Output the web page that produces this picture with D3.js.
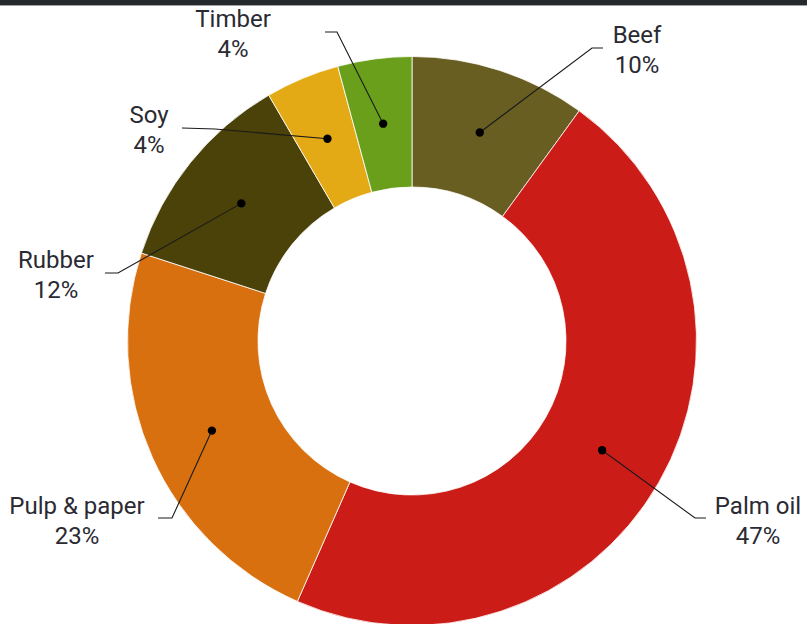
<!DOCTYPE html>
<html>
<head>
<meta charset="utf-8">
<script src="https://cdnjs.cloudflare.com/ajax/libs/d3/7.8.5/d3.min.js"></script>
<style>
  html, body { margin: 0; padding: 0; background: #ffffff; }
  svg { display: block; }
  text { font-family: Roboto, "Noto Sans", sans-serif; fill: #2a2a32; }
</style>
</head>
<body>
<script>
// ---- data ----
const categories = ["Beef", "Palm oil", "Pulp & paper", "Rubber", "Soy", "Timber"];
const shares = [10, 46.6, 23.4, 11.6, 4.2, 4.2];
const percentLabels = ["10%", "47%", "23%", "12%", "4%", "4%"];
const colors = ["#685e22", "#cc1c17", "#d9700f", "#4a4208", "#e4aa15", "#6a9f1b"];

// ---- layout of the callouts (label anchor, elbow, line end) ----
const labelPos = [
  { x: 637, y: 43, elbow: [592, 48], end: [603, 48] },
  { x: 758, y: 514, elbow: [695, 518], end: [706, 518] },
  { x: 77, y: 514, elbow: [172, 518], end: [158, 518] },
  { x: 56, y: 268, elbow: [118, 273], end: [105, 273] },
  { x: 149, y: 123, elbow: [215, 129], end: [182, 128] },
  { x: 233, y: 27, elbow: [337, 32], end: [325, 32] }
];

const W = 807, H = 624;
const cx = 412, cy = 341, rOuter = 284.5, rInner = 154;

const svg = d3.select("body").append("svg").attr("width", W).attr("height", H);

// top dark strip
svg.append("rect").attr("x", 0).attr("y", 0).attr("width", W).attr("height", 5).attr("fill", "#25292c");
svg.append("rect").attr("x", 0).attr("y", 5).attr("width", W).attr("height", 1).attr("fill", "#a0a2a4");

const data = categories.map((c, i) => ({ name: c, value: shares[i], pct: percentLabels[i], color: colors[i], lp: labelPos[i] }));

const pie = d3.pie().value(d => d.value).sort(null);
const arc = d3.arc().innerRadius(rInner).outerRadius(rOuter);
const arcs = pie(data);

const g = svg.append("g").attr("transform", `translate(${cx},${cy})`);

g.selectAll("path.slice").data(arcs).join("path")
  .attr("class", "slice")
  .attr("d", arc)
  .attr("fill", d => d.data.color)
  .attr("stroke", "#ffffff")
  .attr("stroke-width", 0.8);

// leader lines
const line = d3.line();
arcs.forEach(a => {
  const c = arc.centroid(a);
  const p0 = [cx + c[0], cy + c[1]];
  svg.append("path")
    .attr("d", line([p0, a.data.lp.elbow, a.data.lp.end]))
    .attr("fill", "none")
    .attr("stroke", "#1a1a1a")
    .attr("stroke-width", 1.1);
  svg.append("circle")
    .attr("cx", p0[0]).attr("cy", p0[1]).attr("r", 4.2)
    .attr("fill", "#000000");
});

// labels
arcs.forEach(a => {
  const t = svg.append("text")
    .attr("text-anchor", "middle")
    .attr("font-size", 24);
  t.append("tspan").attr("x", a.data.lp.x).attr("y", a.data.lp.y).text(a.data.name);
  t.append("tspan").attr("x", a.data.lp.x).attr("y", a.data.lp.y + 30).text(a.data.pct);
});
</script>
</body>
</html>
